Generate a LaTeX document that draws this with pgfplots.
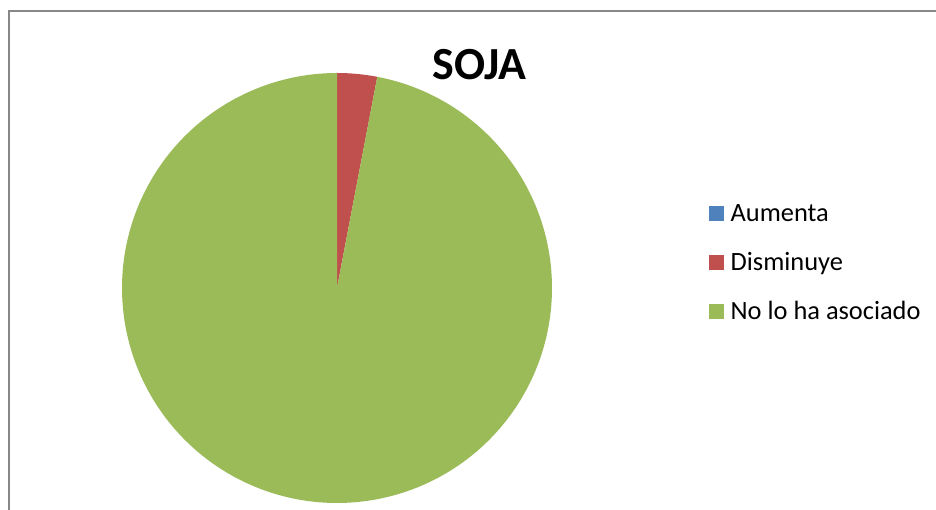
\documentclass[border=0pt]{standalone}
\usepackage{pgfplots}
\pgfplotsset{compat=1.18}
\usepackage{fontspec}
\setmainfont{Carlito}
\definecolor{cBlue}{HTML}{4F81BD}
\definecolor{cRed}{HTML}{C0504D}
\definecolor{cGreen}{HTML}{9BBB59}
\definecolor{cBorder}{HTML}{878787}
% values (percent): Aumenta 0, Disminuye 3, No lo ha asociado 97
\def\vA{0}\def\vD{3}\def\vN{97}
\begin{document}
\begin{tikzpicture}[x=0.75pt,y=0.75pt]
\pgfmathsetmacro{\aA}{90-3.6*\vA}
\pgfmathsetmacro{\aD}{\aA-3.6*\vD}
\pgfmathsetmacro{\aN}{\aD-3.6*\vN}
\begin{axis}[
  scale only axis, width=702pt, height=382.5pt,
  xmin=-337, xmax=599, ymin=-222, ymax=288,
  hide axis, clip=false,
  legend cell align=left,
  legend style={at={(axis cs:372,25)}, anchor=west, draw=none, fill=none,
    inner sep=0pt, outer sep=0pt,
    font=\fontsize{19.8}{23}\selectfont,
    row sep=16.5pt, column sep=2.4pt,
    nodes={inner sep=2.6pt}},
  legend image code/.code={\path[#1,draw=none] (0pt,-5.6pt) rectangle (11.25pt,5.6pt);},
]
\addlegendimage{fill=cBlue}
\addlegendentry{Aumenta}
\addplot[fill=cRed, draw=none, data cs=polar, domain=\aD:\aA, samples=20] ({x},{215}) -- (axis cs:0,0) -- cycle;
\addlegendentry{Disminuye}
\addplot[fill=cGreen, draw=none, data cs=polar, domain=\aN:\aD, samples=300] ({x},{215}) -- (axis cs:0,0) -- cycle;
\addlegendentry{No lo ha asociado}
\node[font=\bfseries\fontsize{34.5}{40}\selectfont, inner sep=0pt] at (axis cs:142.5,223.5) {SOJA};
\draw[cBorder, line width=1.5pt] (axis cs:-328,-222) -- (axis cs:-328,276.5) -- (axis cs:599,276.5);
\end{axis}
\pgfresetboundingbox
\useasboundingbox (current axis.south west) rectangle (current axis.north east);
\end{tikzpicture}
\end{document}
